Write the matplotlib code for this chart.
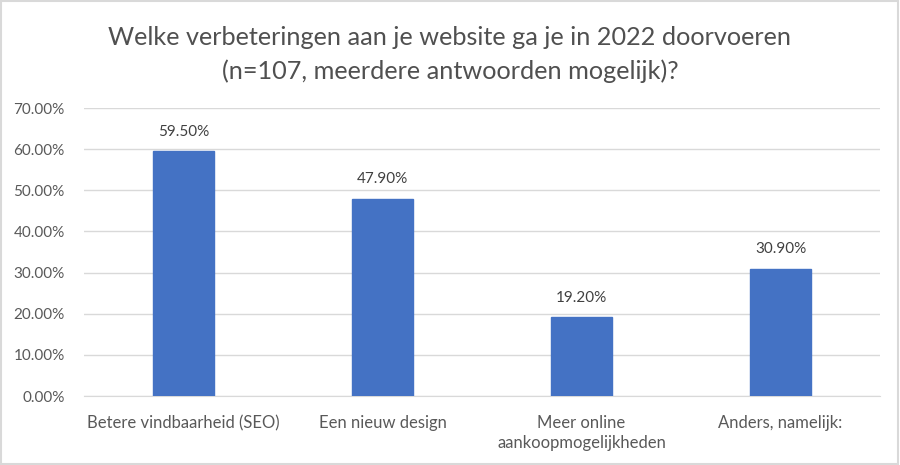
import matplotlib
matplotlib.use("Agg")
import matplotlib.pyplot as plt
from matplotlib.patches import Rectangle

categories = ["Betere vindbaarheid (SEO)", "Een nieuw design", "Meer online\naankoopmogelijkheden", "Anders, namelijk:"]
values = [0.595, 0.479, 0.192, 0.309]
yticks = [0.0, 0.1, 0.2, 0.3, 0.4, 0.5, 0.6, 0.7]
title = "Welke verbeteringen aan je website ga je in 2022 doorvoeren\n(n=107, meerdere antwoorden mogelijk)?"

plt.rcParams['font.family'] = ['Lato', 'DejaVu Sans']

fig = plt.figure(figsize=(9, 4.65), dpi=100)
fig.patch.set_facecolor("white")
fig.add_artist(Rectangle((0.001, 0.002), 0.997, 0.995, transform=fig.transFigure,
                         fill=False, edgecolor="#D9D9D9", linewidth=1.5))
ax = fig.add_axes([84/900, 69/465, 796/900, 288/465])

x = list(range(len(categories)))
bars = ax.bar(x, values, width=0.31, color="#4472C4", edgecolor="#4472C4", zorder=3)
for xi, v in zip(x, values):
    ax.annotate(f"{v*100:.2f}%", (xi, v), xytext=(0, 9), textcoords="offset points",
                ha="center", va="bottom", fontsize=11, color="#404040")

ax.set_xlim(-0.5, 3.5)
ax.set_ylim(0, 0.7)
ax.set_yticks(yticks)
ax.set_yticklabels([f"{t*100:.2f}%" for t in yticks], fontsize=11, color="#595959")
ax.set_xticks(x)
ax.set_xticklabels(categories, fontsize=12, color="#595959", linespacing=1.25)
ax.grid(axis="y", color="#D9D9D9", linewidth=1, zorder=0)
for s in ["top", "right", "left"]:
    ax.spines[s].set_visible(False)
ax.spines["bottom"].set_color("#D9D9D9")
ax.tick_params(axis="x", length=0, pad=14)
ax.tick_params(axis="y", length=0, pad=14)

fig.text(0.5, 0.883, title, ha="center", va="center", fontsize=18.2, color="#505050",
         linespacing=1.5)

fig.savefig("out.png", dpi=100)
